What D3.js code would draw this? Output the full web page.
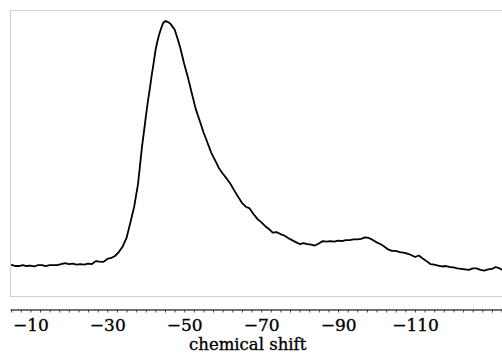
<!DOCTYPE html>
<html><head><meta charset="utf-8">
<script src="https://cdn.jsdelivr.net/npm/d3@7"></script>
<style>body{margin:0;background:#fff}svg{display:block}</style>
</head><body>
<svg id="c" width="502" height="356"></svg>
<script>
// chemical shift (ppm) and intensity (arbitrary units, peak ≈ 100)
const shift = [-5,-6,-7,-8,-9,-10,-11,-12,-13,-14,-15,-16,-17,-18,-19,-20,-21,-22,-23,-24,-25,-26,-27,-28,-29,-30,-31,-32,-33,-34,-35,-36,-37,-38,-38.5,-39,-39.5,-40,-40.5,-41,-41.5,-42,-42.5,-43,-43.5,-44,-44.5,-45,-45.5,-46,-46.5,-47,-47.5,-48,-48.5,-49,-50,-51,-52,-53,-54,-55,-56,-57,-58,-59,-60,-61,-62,-63,-64,-65,-66,-67,-68,-69,-70,-71,-72,-73,-74,-75,-76,-77,-78,-79,-80,-81,-82,-83,-84,-85,-86,-87,-88,-89,-90,-91,-92,-93,-94,-95,-96,-97,-98,-99,-100,-101,-102,-103,-104,-105,-106,-107,-108,-109,-110,-111,-112,-113,-114,-115,-116,-117,-118,-119,-120,-121,-122,-123,-124,-125,-126,-127,-128,-129,-130,-131,-132,-133];
const intensity = [0.2,-0.4,-0.4,0,-0.4,-0.2,-0.6,0,0,-0.4,0,0,0,0.4,0.8,0.4,0.6,0.2,0.4,0.2,0.6,0.4,1.6,1.4,1.3,2.5,2.9,3.7,5.3,7.6,11.1,17.4,24.0,33.4,40.7,48.2,54.3,60.6,66.5,71.7,77.3,82.3,87.7,91.6,94.6,97.0,99.2,99.9,99.8,99.4,98.7,97.6,96.5,94.1,91.6,88.8,82.4,76.6,70.2,63.9,59.2,54.4,50.3,46.1,43.0,39.8,37.5,35.5,33.3,30.6,28.0,25.5,23.9,23.2,20.9,18.9,17.6,16.0,14.8,13.3,13.5,12.7,12.1,11.1,10.2,9.4,8.6,9.0,8.6,8.4,8.0,8.8,9.8,9.6,9.8,9.6,10.0,9.8,10.2,10.2,10.5,10.5,10.7,11.3,11.1,10.3,9.3,8.6,7.6,6.4,5.8,5.8,5.3,5.1,4.7,4.1,3.3,3.9,2.7,1.6,0.4,0.2,-0.2,-0.6,-0.4,-0.8,-1.0,-1.4,-1.6,-1.8,-2.0,-1.4,-1.4,-2.0,-2.3,-1.8,-1.6,-0.8,-1.4,-2.3];
const tickLabels = [-10,-30,-50,-70,-90,-110];
const xTitle = "chemical shift";

const svg = d3.select("#c");
const x = d3.scaleLinear().domain([-4.7, -132.62]).range([10, 502]);
const y = d3.scaleLinear().domain([-13.1, 104.1]).range([297, 11]);

// frame
svg.append("rect").attr("x",10.5).attr("y",10.5).attr("width",520).attr("height",286)
  .attr("fill","none").attr("stroke","#d0d0d0").attr("stroke-width",1);

const data = shift.map((s,i)=>({s, v:intensity[i]}));
svg.append("path").datum(data)
  .attr("fill","none").attr("stroke","#000").attr("stroke-width",1.8)
  .attr("stroke-linejoin","round")
  .attr("d", d3.line().x(d=>x(d.s)).y(d=>y(d.v)));

// axis
const minor = d3.range(-5, -133, -2.5);
const ax = svg.append("g").attr("transform","translate(0,309.5)")
  .call(d3.axisBottom(x).tickValues(minor).tickSize(3).tickSizeOuter(0)
    .tickFormat(d => tickLabels.includes(d) ? "\u2212" + Math.abs(d) : ""));
ax.select(".domain").attr("stroke","#444").attr("stroke-width",1.3);
ax.selectAll(".tick line").attr("stroke","#444");
ax.selectAll(".tick text").attr("y",21.5).attr("dy",0)
  .attr("font-family","DejaVu Serif").attr("font-size",17).attr("fill","#000")
  .attr("stroke","#000").attr("stroke-width",0.35);

svg.append("text").attr("x",x(-66.5)).attr("y",350).attr("text-anchor","middle")
  .attr("font-family","DejaVu Serif").attr("font-size",16.5).attr("fill","#000")
  .attr("stroke","#000").attr("stroke-width",0.35)
  .text(xTitle);
</script>
</body></html>
